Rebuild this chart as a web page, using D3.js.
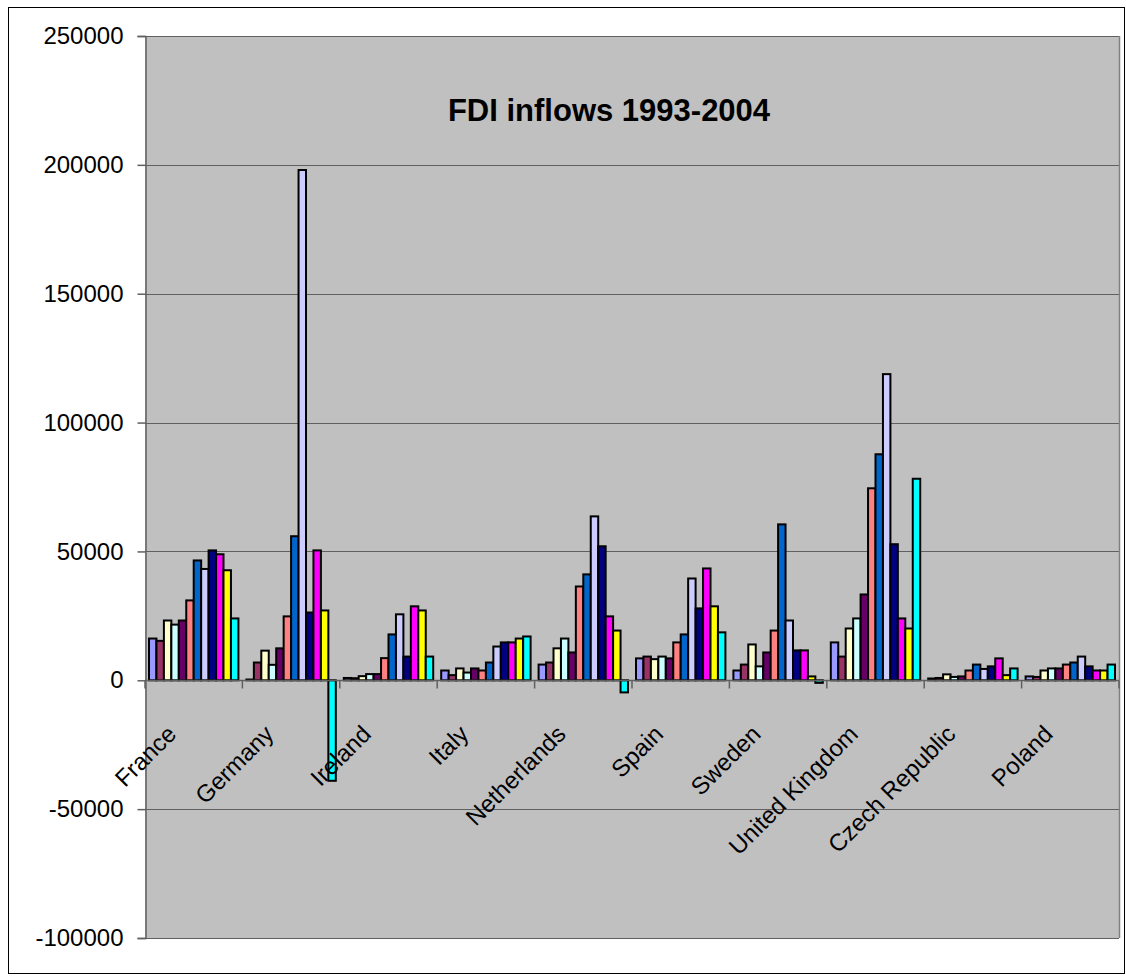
<!DOCTYPE html>
<html>
<head>
<meta charset="utf-8">
<script src="https://cdn.jsdelivr.net/npm/d3@7"></script>
<style>
  html, body { margin: 0; padding: 0; background: #fff; }
  svg { display: block; font-family: "Liberation Sans", Arial, sans-serif; }
</style>
</head>
<body>
<svg id="chart" width="1126" height="976"></svg>
<script>
// Countries along the category axis
const countries = ["France", "Germany", "Ireland", "Italy", "Netherlands", "Spain",
  "Sweden", "United Kingdom", "Czech Republic", "Poland"];

// FDI inflows per year, one value per country (same order as countries)
const fdi1993 = [16200, 300, 900, 3800, 6100, 8500, 3800, 14700, 700, 1500];
const fdi1994 = [15300, 6900, 800, 2000, 6900, 9200, 6100, 9200, 900, 1300];
const fdi1995 = [23200, 11500, 1600, 4600, 12400, 8200, 13900, 20100, 2300, 3800];
const fdi1996 = [21600, 6000, 2400, 3000, 16200, 9200, 5400, 24000, 1300, 4600];
const fdi1997 = [23200, 12400, 2400, 4600, 10800, 8500, 10800, 33300, 1500, 4600];
const fdi1998 = [31000, 24800, 8600, 3800, 36400, 14700, 19300, 74500, 3800, 6100];
const fdi1999 = [46500, 55900, 17800, 6900, 41100, 17800, 60500, 87700, 6100, 6900];
const fdi2000 = [43200, 198000, 25600, 13100, 63600, 39500, 23200, 118800, 4400, 9200];
const fdi2001 = [50400, 26300, 9200, 14700, 52000, 27900, 11600, 52800, 5400, 5400];
const fdi2002 = [48900, 50400, 28700, 14700, 24800, 43400, 11600, 24000, 8500, 3800];
const fdi2003 = [42700, 27100, 27100, 16200, 19300, 28700, 1500, 20100, 2000, 3800];
const fdi2004 = [24000, -39000, 9200, 17000, -4700, 18600, -1000, 78200, 4600, 6100];

const years = ["1993", "1994", "1995", "1996", "1997", "1998", "1999", "2000",
  "2001", "2002", "2003", "2004"];
const seriesValues = [fdi1993, fdi1994, fdi1995, fdi1996, fdi1997, fdi1998,
  fdi1999, fdi2000, fdi2001, fdi2002, fdi2003, fdi2004];

// Value axis ticks
const yTicks = [-100000, -50000, 0, 50000, 100000, 150000, 200000, 250000];

const seriesColors = ["#9999FF", "#993366", "#FFFFCC", "#CCFFFF", "#660066", "#FF8080",
  "#0066CC", "#CCCCFF", "#000080", "#FF00FF", "#FFFF00", "#00FFFF"];

const svg = d3.select("#chart");

// chart area border
svg.append("rect")
  .attr("x", 8.5).attr("y", 7.5)
  .attr("width", 1116).attr("height", 966)
  .attr("fill", "#fff").attr("stroke", "#000").attr("stroke-width", 1);

const plot = { left: 145, right: 1119, top: 36, bottom: 938 };

const x = d3.scaleBand()
  .domain(countries)
  .range([plot.left, plot.right])
  .padding(0);

const xInner = d3.scaleBand()
  .domain(years)
  .range([4, x.bandwidth() - 4])
  .padding(0);

const y = d3.scaleLinear()
  .domain([yTicks[0], yTicks[yTicks.length - 1]])
  .range([plot.bottom, plot.top]);

// plot area background
svg.append("rect")
  .attr("x", plot.left).attr("y", plot.top)
  .attr("width", plot.right - plot.left).attr("height", plot.bottom - plot.top)
  .attr("fill", "#C0C0C0");

// horizontal gridlines
svg.append("g")
  .selectAll("line")
  .data(yTicks)
  .join("line")
  .attr("x1", plot.left).attr("x2", plot.right)
  .attr("y1", d => Math.round(y(d)) + 0.5).attr("y2", d => Math.round(y(d)) + 0.5)
  .attr("stroke", "#606060").attr("stroke-width", 1);

// right border of the plot area
svg.append("line")
  .attr("x1", plot.right + 0.5).attr("x2", plot.right + 0.5)
  .attr("y1", plot.top).attr("y2", plot.bottom)
  .attr("stroke", "#808080").attr("stroke-width", 1.5);

// value axis (plain hyphen for negatives)
const yAxis = d3.axisLeft(y)
  .tickValues(yTicks)
  .tickFormat(d => String(d))
  .tickSize(8)
  .tickPadding(14);

const yAxisG = svg.append("g")
  .attr("transform", `translate(${plot.left + 0.5},0)`)
  .call(yAxis);
yAxisG.select(".domain").attr("stroke", "#606060").attr("stroke-width", 1.5);
yAxisG.selectAll(".tick line").attr("stroke", "#606060").attr("stroke-width", 1.5);
yAxisG.selectAll(".tick text")
  .attr("font-size", 24)
  .attr("font-family", "'Liberation Sans', Arial, sans-serif")
  .attr("fill", "#000");

// bars
const groups = svg.append("g")
  .selectAll("g")
  .data(years.map((yr, i) => ({ year: yr, color: seriesColors[i], values: seriesValues[i] })))
  .join("g")
  .attr("fill", d => d.color);

groups.selectAll("rect")
  .data(d => d.values.map((v, j) => ({ year: d.year, country: countries[j], value: v })))
  .join("rect")
  .attr("x", d => x(d.country) + xInner(d.year))
  .attr("width", xInner.bandwidth())
  .attr("y", d => y(Math.max(0, d.value)))
  .attr("height", d => Math.abs(y(d.value) - y(0)))
  .attr("stroke", "#000")
  .attr("stroke-width", 2);

// category axis at zero
const y0 = Math.round(y(0)) + 0.5;
svg.append("line")
  .attr("x1", plot.left).attr("x2", plot.right)
  .attr("y1", y0).attr("y2", y0)
  .attr("stroke", "#606060").attr("stroke-width", 1.5);

const boundaries = countries.map(c => x(c)).concat([plot.right]);
svg.append("g")
  .selectAll("line")
  .data(boundaries)
  .join("line")
  .attr("x1", d => d).attr("x2", d => d)
  .attr("y1", y0).attr("y2", y0 + 8)
  .attr("stroke", "#606060").attr("stroke-width", 1.5);

// rotated category labels
svg.append("g")
  .selectAll("text")
  .data(countries)
  .join("text")
  .attr("transform", d => `translate(${x(d) + x.bandwidth() / 2 - 16},${y0 + 55}) rotate(-45)`)
  .attr("text-anchor", "end")
  .attr("font-size", 24)
  .attr("fill", "#000")
  .text(d => d);

// title
svg.append("text")
  .attr("x", 609)
  .attr("y", 121)
  .attr("text-anchor", "middle")
  .attr("font-size", 31)
  .attr("font-weight", "bold")
  .attr("fill", "#000")
  .text("FDI inflows 1993-2004");
</script>
</body>
</html>
